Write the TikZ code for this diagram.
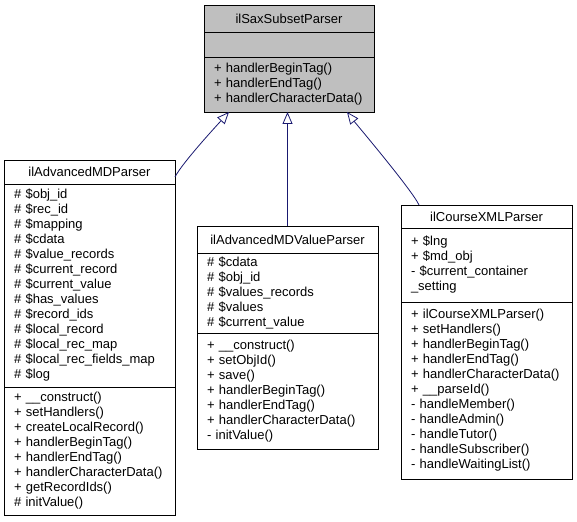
\documentclass[tikz,border=0pt]{standalone}
\usepackage{fontspec}
\setmainfont{Liberation Sans}
\usetikzlibrary{positioning,arrows.meta}
\definecolor{edgeblue}{HTML}{191970}

\begin{document}
\begin{tikzpicture}[x=1pt, y=-1pt,
    umlpart/.style={draw=black, line width=0.8pt, outer sep=0pt, inner xsep=10pt, inner ysep=0pt,
        anchor=north west, align=left, font=\fontsize{13}{15}\selectfont},
    umltitle/.style={umlpart, align=center},
    inherit/.style={draw=edgeblue, line width=0.8pt, -{Triangle[open, length=12pt, width=10pt]}}]
    \useasboundingbox (0,0) rectangle (577,521);

    \node[umltitle, fill=gray!50, text width=150pt, minimum height=27pt] (saxt) at (204,5) {ilSaxSubsetParser};
    \node[umlpart, fill=gray!50, text width=150pt, minimum height=25pt, below=0pt of saxt] (saxa) {};
    \node[umlpart, fill=gray!50, text width=150pt, minimum height=55pt, below=0pt of saxa] (saxm)
        {+ handlerBeginTag()\\+ handlerEndTag()\\+ handlerCharacterData()};

    \node[umltitle, text width=151pt, minimum height=24pt] (mdt) at (4,160) {ilAdvancedMDParser};
    \node[umlpart, text width=151pt, minimum height=203pt, below=0pt of mdt] (mda)
        {\# \$obj\_id\\\# \$rec\_id\\\# \$mapping\\\# \$cdata\\\# \$value\_records\\\# \$current\_record\\\# \$current\_value\\\# \$has\_values\\\# \$record\_ids\\\# \$local\_record\\\# \$local\_rec\_map\\\# \$local\_rec\_fields\_map\\\# \$log};
    \node[umlpart, text width=151pt, minimum height=128pt, below=0pt of mda] (mdm)
        {+ \_\_construct()\\+ setHandlers()\\+ createLocalRecord()\\+ handlerBeginTag()\\+ handlerEndTag()\\+ handlerCharacterData()\\+ getRecordIds()\\\# initValue()};

    \node[umltitle, text width=161pt, minimum height=27pt] (valt) at (197,226) {ilAdvancedMDValueParser};
    \node[umlpart, text width=161pt, minimum height=80pt, below=0pt of valt] (vala)
        {\# \$cdata\\\# \$obj\_id\\\# \$values\_records\\\# \$values\\\# \$current\_value};
    \node[umlpart, text width=161pt, minimum height=116pt, below=0pt of vala] (valm)
        {+ \_\_construct()\\+ setObjId()\\+ save()\\+ handlerBeginTag()\\+ handlerEndTag()\\+ handlerCharacterData()\\- initValue()};

    \node[umltitle, text width=151pt, minimum height=23pt] (crst) at (401,205) {ilCourseXMLParser};
    \node[umlpart, text width=151pt, minimum height=74pt, below=0pt of crst] (crsa)
        {+ \$lng\\+ \$md\_obj\\- \$current\_container\\\_setting};
    \node[umlpart, text width=151pt, minimum height=177pt, below=0pt of crsa] (crsm)
        {+ ilCourseXMLParser()\\+ setHandlers()\\+ handlerBeginTag()\\+ handlerEndTag()\\+ handlerCharacterData()\\+ \_\_parseId()\\- handleMember()\\- handleAdmin()\\- handleTutor()\\- handleSubscriber()\\- handleWaitingList()};

    \draw[inherit] ([yshift=-5pt]mdt.east) .. controls +(7,-14) and +(-10,11) .. ([xshift=25pt]saxm.south west);
    \draw[inherit] (valt.north) -- (valt.north |- saxm.south);
    \draw[inherit] ([xshift=18pt]crst.north west) .. controls +(-7,-15) and +(10,13) .. ([xshift=-27pt]saxm.south east);
\end{tikzpicture}
\end{document}
